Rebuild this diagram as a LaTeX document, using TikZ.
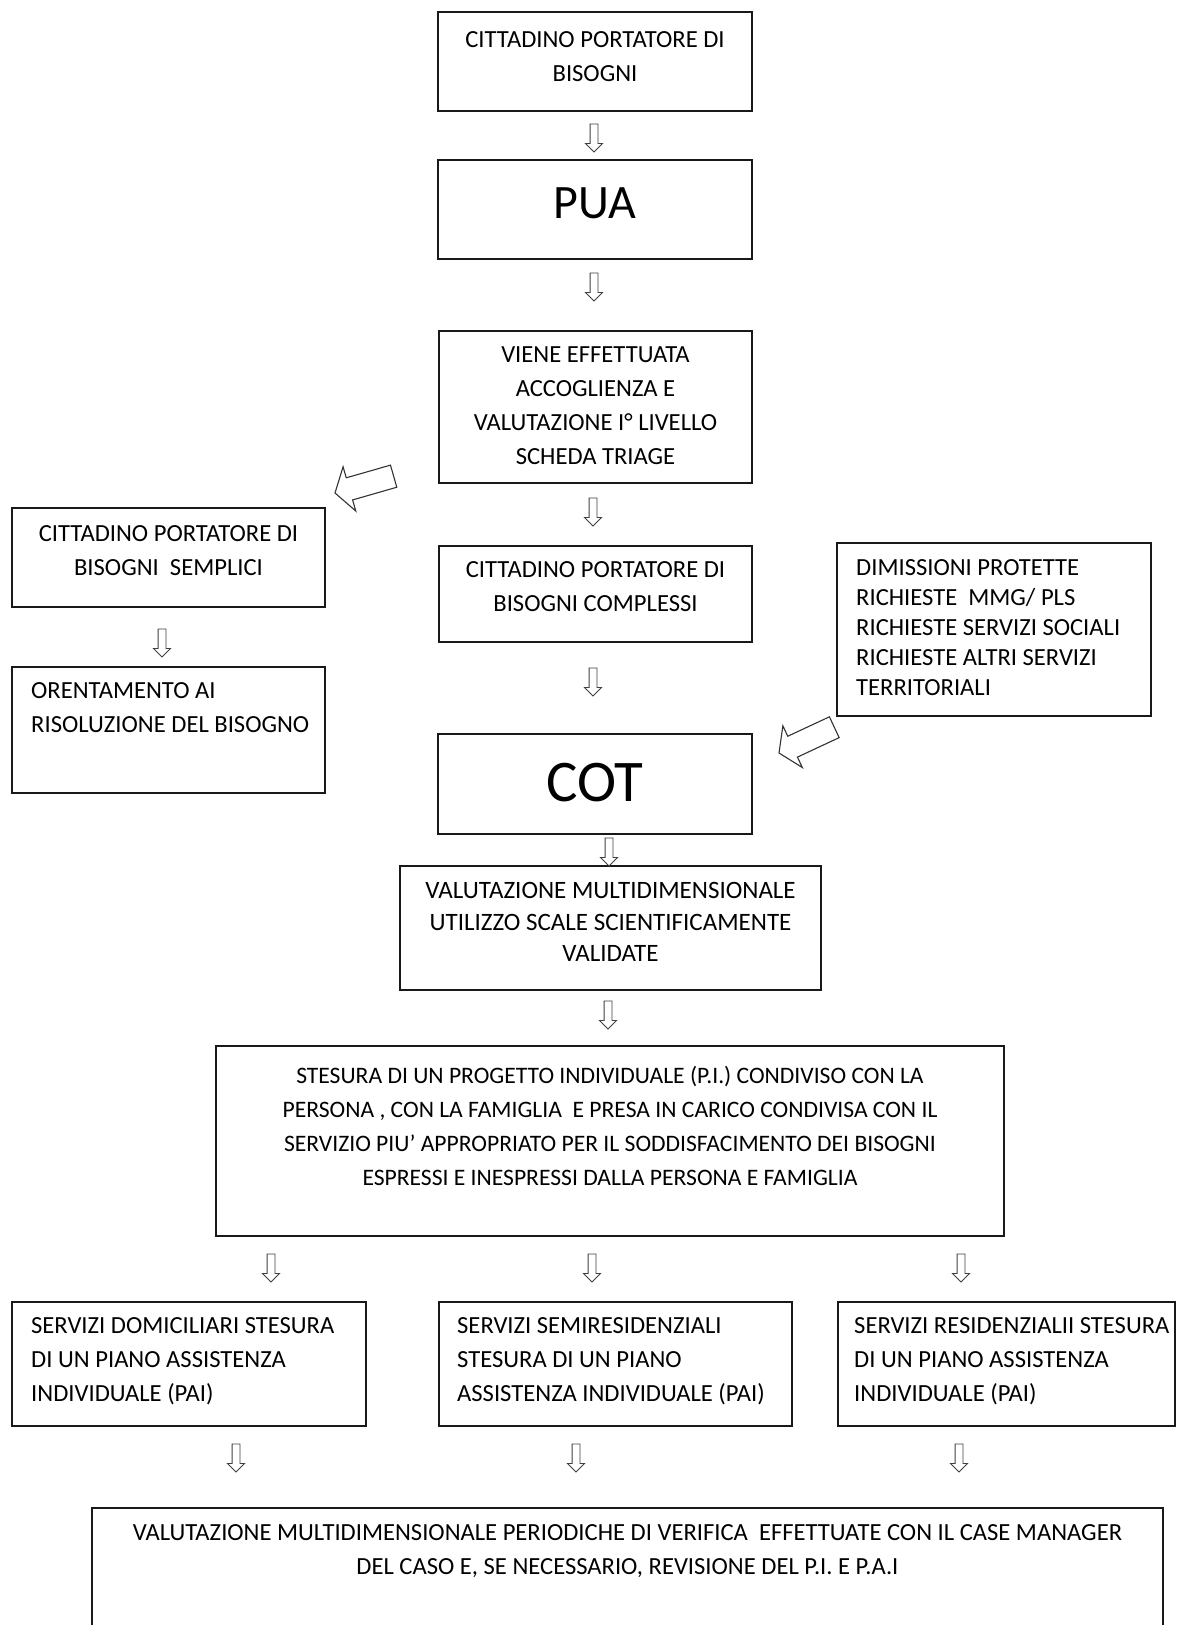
\documentclass[tikz,border=0pt]{standalone}
\usepackage{fontspec}
\setmainfont{Carlito}
\usetikzlibrary{shapes.arrows}
\newcommand{\fsN}{\fontsize{24.6}{34}\selectfont}
\newcommand{\fsS}{\fontsize{23.6}{34}\selectfont}
\newcommand{\fsD}{\fontsize{24.6}{30}\selectfont}
\newcommand{\fsV}{\fontsize{25}{31.5}\selectfont}
\newcommand{\fsP}{\fontsize{48}{50}\selectfont}
\newcommand{\fsC}{\fontsize{59}{62}\selectfont}
\tikzset{
  boxn/.style={draw=black!90, line width=1.7pt, inner sep=0pt, outer sep=0pt, anchor=north west},
  ctext/.style={inner sep=0pt, align=center, anchor=north, font=\fsN, text=black},
  ltext/.style={inner sep=0pt, align=left, anchor=north west, font=\fsN, text=black},
  darr/.style={single arrow, draw=black!75, line width=0.9pt, shape border rotate=270,
    text width=7pt, minimum height=28pt, single arrow head extend=4.5pt,
    single arrow tip angle=90, inner sep=0pt},
  bigarr/.style={draw=black!80, line width=1.1pt, fill=white, line join=miter},
  pics/hollowarrow/.style={code={
    \draw[bigarr] (0,0) -- (15,23) -- (15,11.5) -- (61,11.5) -- (61,-11.5) -- (15,-11.5) -- (15,-23) -- cycle;}}
}
\begin{document}
\begin{tikzpicture}[x=1pt,y=-1pt]
\clip (0,0) rectangle (1178,1625);
\fill[white] (0,0) rectangle (1178,1625);

% boxes
\node[boxn, minimum width=314pt, minimum height=99pt] (b1) at (438,12) {};
\node[boxn, minimum width=314pt, minimum height=99pt] (pua) at (438,160) {};
\node[boxn, minimum width=313pt, minimum height=152pt] (triage) at (439,331) {};
\node[boxn, minimum width=313pt, minimum height=96pt] (comp) at (439,546) {};
\node[boxn, minimum width=313pt, minimum height=99pt] (semp) at (12,508) {};
\node[boxn, minimum width=313pt, minimum height=126pt] (orient) at (12,667) {};
\node[boxn, minimum width=314pt, minimum height=173pt] (dimi) at (837,543) {};
\node[boxn, minimum width=314pt, minimum height=100pt] (cot) at (438,734) {};
\node[boxn, minimum width=421pt, minimum height=124pt] (valut) at (400,866) {};
\node[boxn, minimum width=788pt, minimum height=190pt] (stes) at (216,1046) {};
\node[boxn, minimum width=354pt, minimum height=124pt] (dom) at (12,1302) {};
\node[boxn, minimum width=353pt, minimum height=124pt] (semi) at (439,1302) {};
\node[boxn, minimum width=337pt, minimum height=124pt] (res) at (838,1302) {};
\node[boxn, minimum width=1071pt, minimum height=160pt] (fin) at (92,1508) {};

% texts
\node[ctext] (tb1) at (595,31) {CITTADINO PORTATORE DI\\BISOGNI};
\node[ctext, font=\fsP] (tpua) at (595,187) {PUA};
\node[ctext] (ttri) at (595.5,346.4) {VIENE EFFETTUATA\\ACCOGLIENZA E\\VALUTAZIONE I° LIVELLO\\SCHEDA TRIAGE};
\node[ctext] (tcomp) at (595.5,561.4) {CITTADINO PORTATORE DI\\BISOGNI COMPLESSI};
\node[ctext] (tsemp) at (168.5,525.4) {CITTADINO PORTATORE DI\\BISOGNI\ \ SEMPLICI};
\node[ltext] (torient) at (31,682.4) {ORENTAMENTO AI\\RISOLUZIONE DEL BISOGNO};
\node[ltext, font=\fsD] (tdimi) at (856,559.4) {DIMISSIONI PROTETTE\\RICHIESTE\ \ MMG/ PLS\\RICHIESTE SERVIZI SOCIALI\\RICHIESTE ALTRI SERVIZI\\TERRITORIALI};
\node[ctext, font=\fsC] (tcot) at (595,763) {COT};
\node[ctext, font=\fsV] (tvalut) at (610.5,882.4) {VALUTAZIONE MULTIDIMENSIONALE\\UTILIZZO SCALE SCIENTIFICAMENTE\\VALIDATE};
\node[ctext, font=\fsS] (tstes) at (610,1066) {STESURA DI UN PROGETTO INDIVIDUALE (P.I.) CONDIVISO CON LA\\PERSONA , CON LA FAMIGLIA\ \ E PRESA IN CARICO CONDIVISA CON IL\\SERVIZIO PIU’ APPROPRIATO PER IL SODDISFACIMENTO DEI BISOGNI\\ESPRESSI E INESPRESSI DALLA PERSONA E FAMIGLIA};
\node[ltext] (tdom) at (31,1317.4) {SERVIZI DOMICILIARI STESURA\\DI UN PIANO ASSISTENZA\\INDIVIDUALE (PAI)};
\node[ltext] (tsemi) at (457,1317.4) {SERVIZI SEMIRESIDENZIALI\\STESURA DI UN PIANO\\ASSISTENZA INDIVIDUALE (PAI)};
\node[ltext] (tres) at (854,1317.4) {SERVIZI RESIDENZIALII STESURA\\DI UN PIANO ASSISTENZA\\INDIVIDUALE (PAI)};
\node[ctext] (tfin) at (627.5,1524.4) {VALUTAZIONE MULTIDIMENSIONALE PERIODICHE DI VERIFICA\ \ EFFETTUATE CON IL CASE MANAGER\\DEL CASO E, SE NECESSARIO, REVISIONE DEL P.I. E P.A.I};

% small down arrows
\node[darr] (a1) at (594,136) {};
\node[darr] (a2) at (594,285) {};
\node[darr] (a3) at (593,510) {};
\node[darr] (a4) at (593,680) {};
\node[darr] (a5) at (162,641) {};
\node[darr] (a6) at (609,850) {};
\node[darr] (a7) at (608,1013) {};
\node[darr] (a8) at (271,1266) {};
\node[darr] (a9) at (592,1266) {};
\node[darr] (a10) at (961,1266) {};
\node[darr] (a11) at (236,1456) {};
\node[darr] (a12) at (576,1456) {};
\node[darr] (a13) at (959,1456) {};

% big hollow arrows
\pic[rotate=16] at (335,493) {hollowarrow};
\pic[rotate=25] at (779,753) {hollowarrow};
\end{tikzpicture}
\end{document}
